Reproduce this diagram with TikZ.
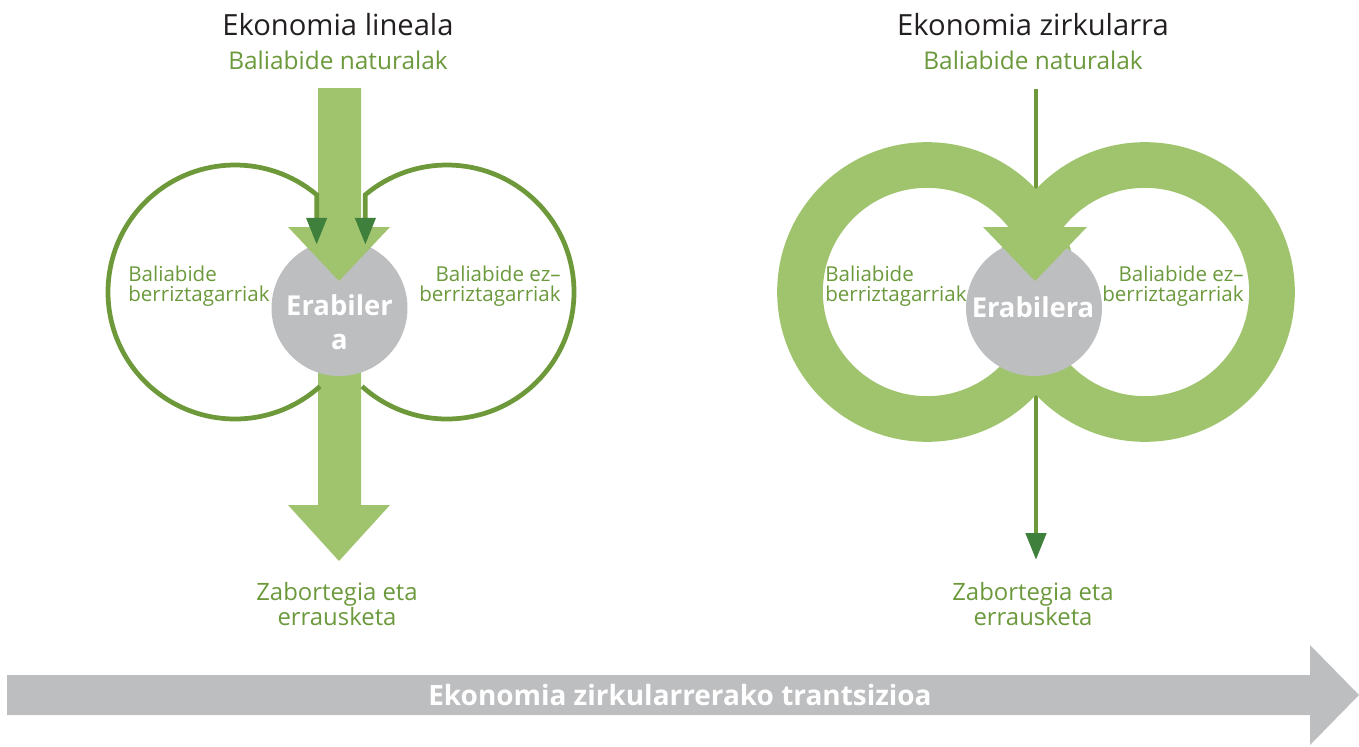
\documentclass[tikz,border=0pt]{standalone}
\usepackage{fontspec}
\setmainfont{Open Sans}
\usetikzlibrary{arrows.meta}
\definecolor{lgreen}{RGB}{160,196,110}
\definecolor{tgreen}{RGB}{107,153,60}
\definecolor{ogreen}{RGB}{110,153,58}
\definecolor{dgreen}{RGB}{62,128,60}
\definecolor{mgrey}{RGB}{189,190,192}
\definecolor{tblack}{RGB}{35,31,32}
\tikzset{
  headtxt/.style = {tblack, anchor=base, inner sep=0, font=\fontsize{16.6}{18}\selectfont},
  srctxt/.style = {tgreen, anchor=base, inner sep=0, font=\fontsize{13.9}{15}\selectfont},
  restxt/.style = {tgreen, inner sep=0, font=\fontsize{11.7}{11.2}\selectfont},
  wastetxt/.style = {tgreen, inner sep=0, align=center, font=\fontsize{13.6}{11.6}\selectfont},
  usecirc/.style = {fill=mgrey, circle, inner sep=0, minimum size=2.72cm},
  usetxt/.style = {white, inner sep=0, align=center, font=\bfseries\fontsize{15.6}{19.6}\selectfont},
  outline/.style = {ogreen, line width=2.7pt},
  ring/.style = {lgreen, line width=26pt},
  flowline/.style = {ogreen, line width=2.8pt},
  dtip/.style = {-{Triangle[width=11.3pt, length=15.3pt, color=dgreen]}}
}
\begin{document}
\begin{tikzpicture}[x=0.02cm, y=-0.02cm]
  \useasboundingbox (0,0) rectangle (1359,747);

  % lineala
  \node [headtxt] (titleL) at (338,35) {Ekonomia lineala};
  \node [srctxt] (natL) at (338,69) {Baliabide naturalak};
  \coordinate (inL) at (340,88);
  \coordinate (hitL) at (339,281);
  \coordinate (outL) at (339,561);
  \fill [lgreen] (outL) -- ++(-51,-56) -- ++(30,0) -- ++(0,-170) -- ++(43,0)
    -- ++(0,170) -- ++(29,0) -- cycle;
  \node [usecirc] (useL) at (339.5,308) {};
  \fill [lgreen] (inL) ++(-22,0) -- ++(0,139) -- ++(-30,0) -- (hitL)
    -- ++(51,-54) -- ++(-29,0) -- ++(0,-139) -- cycle;
  \draw [outline, dtip] (235,292) ++(48:127) arc [start angle=48, end angle=310, radius=127]
    -- ++(0,50);
  \draw [outline, dtip] (447,292) ++(132:127) arc [start angle=132, end angle=-130, radius=127]
    -- ++(0,50);
  \node [usetxt] (useLtxt) at (339.5,322) {Erabiler\\a};
  \node [restxt, anchor=west, align=left] (renL) at (128,286) {Baliabide\\berriztagarriak};
  \node [restxt, anchor=east, align=right] (nrenL) at (561,286) {Baliabide ez--\\berriztagarriak};
  \node [wastetxt] (wasteL) at (337,604) {Zabortegia eta\\errausketa};

  % zirkularra
  \node [headtxt] (titleR) at (1033,35) {Ekonomia zirkularra};
  \node [srctxt] (natR) at (1033,69) {Baliabide naturalak};
  \coordinate (inR) at (1036,89);
  \coordinate (hitR) at (1035,281);
  \coordinate (outR) at (1036,560);
  \draw [flowline, dtip] (inR) -- (outR);
  \foreach \cx in {927,1145} {
    \draw [ring] (\cx,292) circle [radius=127];
  }
  \node [usecirc] (useR) at (1034,308) {};
  \fill [lgreen] (hitR) -- ++(-52,-54) -- ++(104,0) -- cycle;
  \node [usetxt] (useRtxt) at (1033,307) {Erabilera};
  \node [restxt, anchor=west, align=left] (renR) at (825,286) {Baliabide\\berriztagarriak};
  \node [restxt, anchor=east, align=right] (nrenR) at (1244,286) {Baliabide ez--\\berriztagarriak};
  \node [wastetxt] (wasteR) at (1033,604) {Zabortegia eta\\errausketa};

  % trantsizioa
  \fill [mgrey] (7,675) -- (1310,675) -- (1310,645) -- (1359,695) -- (1310,745)
    -- (1310,715) -- (7,715) -- cycle;
  \node [white, anchor=base, inner sep=0, font=\bfseries\fontsize{15.9}{17}\selectfont] (band)
    at (680,705) {Ekonomia zirkularrerako trantsizioa};
\end{tikzpicture}
\end{document}
